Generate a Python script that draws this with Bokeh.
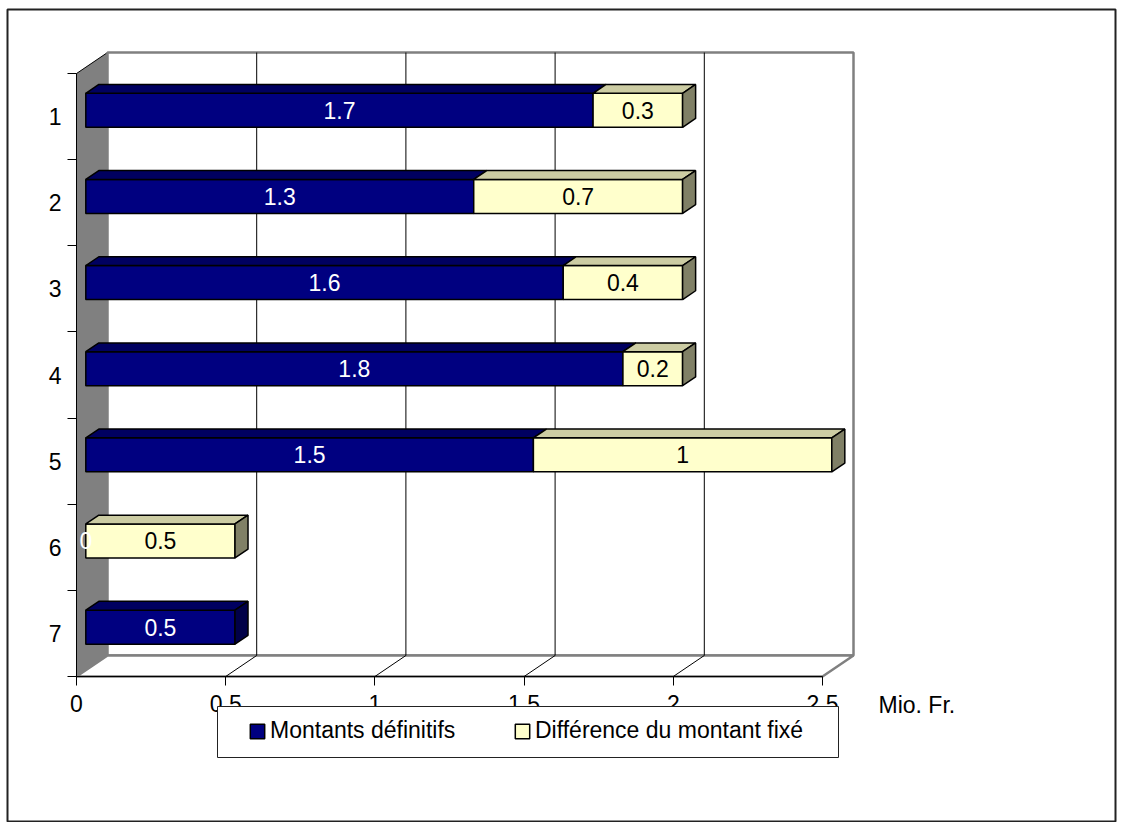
from bokeh.plotting import figure
from bokeh.models import (Range1d, LinearAxis, FixedTicker, ColumnDataSource,
                          Legend, LegendItem, Label, BoxAnnotation)
from bokeh.core.properties import value
from bokeh.embed import file_html
from bokeh.resources import INLINE

# ---------------- data ----------------
categories = ["1", "2", "3", "4", "5", "6", "7"]
montants_definitifs = [1.7, 1.3, 1.6, 1.8, 1.5, 0, 0.5]
difference_montant_fixe = [0.3, 0.7, 0.4, 0.2, 1.0, 0.5, None]
x_ticks = [0, 0.5, 1, 1.5, 2, 2.5]
x_tick_labels = ["0", "0.5", "1", "1.5", "2", "2.5"]
series_names = ["Montants définitifs", "Différence du montant fixé"]
unit_label = "Mio. Fr."

# ---------------- layout / style ----------------
W, H = 1123, 822
FR_L, FR_T, FR_R, FR_B = 7, 9, 1115, 822
X0_PX, Y0_PX = 76, 676
PX_PER_X = 298.4
PX_PER_CAT = 86.14
DEPTH_PX = (31, 21)
F0, F1 = 0.3, 0.72
BAR_PX = 34
FONT = "Liberation Sans"
FS = "23px"
LEG_BOX_PX = (217, 706, 838, 757)   # left, top, right, bottom
LEG_ITEM_PX = (248, 731)            # first glyph left, item centre y
LEG_ITEM_H = 26

NAVY = ("#000080", "#000060", "#000048")
BEIGE = ("#FFFFCC", "#CCCCA3", "#808066")

n = len(categories)
x_max = x_ticks[-1]
DX = DEPTH_PX[0] / PX_PER_X
DY = DEPTH_PX[1] / PX_PER_CAT
BAR_H = BAR_PX / PX_PER_CAT


def px_to_x(px):
    return (px - X0_PX) / PX_PER_X


def py_to_y(py):
    return (Y0_PX - py) / PX_PER_CAT


x_range = Range1d(px_to_x(FR_L), px_to_x(FR_R))
y_range = Range1d(py_to_y(FR_B), py_to_y(FR_T))

p = figure(width=W, height=H, x_range=x_range, y_range=y_range,
           x_axis_type=None, y_axis_type=None,
           output_backend="svg", toolbar_location=None,
           min_border_left=FR_L, min_border_top=FR_T,
           min_border_right=W - FR_R, min_border_bottom=H - FR_B,
           outline_line_color="#222222", outline_line_width=2,
           background_fill_color="white", border_fill_color="white")

# ---------------- 3D walls ----------------
p.patch([0, DX, DX, 0], [0, DY, n + DY, n], fill_color="#808080", line_color=None)
p.segment(x0=[0], y0=[n], x1=[DX], y1=[n + DY], line_color="black", line_width=1)
p.quad(left=[DX], right=[x_max + DX], bottom=[DY], top=[n + DY],
       fill_color="white", line_color="#808080", line_width=2.5)
p.patch([0, DX, x_max + DX, x_max], [0, DY, DY, 0],
        fill_color="white", line_color="#808080", line_width=2.5)
inner = x_ticks[1:-1]
p.segment(x0=[t + DX for t in inner], y0=[DY] * len(inner),
          x1=[t + DX for t in inner], y1=[n + DY] * len(inner),
          line_color="black", line_width=1)
p.segment(x0=inner, y0=[0] * len(inner),
          x1=[t + DX for t in inner], y1=[DY] * len(inner),
          line_color="black", line_width=1)

# ---------------- bars ----------------
ox, oy = F0 * DX, F0 * DY
bx, by = (F1 - F0) * DX, (F1 - F0) * DY

faces = {k: {"xs": [], "ys": []} for k in
         ["nf", "nt", "ns", "bf", "bt", "bs"]}
lab_x, lab_y, lab_t, lab_c = [], [], [], []

for i, cat in enumerate(categories):
    uc = n - i - 0.5 + oy
    yb, yt = uc - BAR_H / 2, uc + BAR_H / 2
    segs = []
    a = 0.0
    for key, v, col in (("n", montants_definitifs[i], "white"),
                        ("b", difference_montant_fixe[i], "black")):
        if v is None:
            continue
        b = a + v
        lab_x.append((a + b) / 2 + ox)
        lab_y.append(uc)
        lab_t.append(f"{v:g}")
        lab_c.append(col)
        if v > 0:
            faces[key + "f"]["xs"].append([a + ox, b + ox, b + ox, a + ox])
            faces[key + "f"]["ys"].append([yb, yb, yt, yt])
            faces[key + "t"]["xs"].append([a + ox, b + ox, b + ox + bx, a + ox + bx])
            faces[key + "t"]["ys"].append([yt, yt, yt + by, yt + by])
            segs.append((key, b))
        a = b
    if segs:
        key, b = segs[-1]
        faces[key + "s"]["xs"].append([b + ox, b + ox + bx, b + ox + bx, b + ox])
        faces[key + "s"]["ys"].append([yb, yb + by, yt + by, yt])

style = dict(line_color="black", line_width=1.5)
r = {}
for key, cols in (("n", NAVY), ("b", BEIGE)):
    r[key + "f"] = p.patches("xs", "ys", source=ColumnDataSource(faces[key + "f"]),
                             fill_color=cols[0], **style)
    r[key + "t"] = p.patches("xs", "ys", source=ColumnDataSource(faces[key + "t"]),
                             fill_color=cols[1], **style)
    r[key + "s"] = p.patches("xs", "ys", source=ColumnDataSource(faces[key + "s"]),
                             fill_color=cols[2], **style)

p.text(x="x", y="y", text="t", text_color="c",
       source=ColumnDataSource(dict(x=lab_x, y=lab_y, t=lab_t, c=lab_c)),
       text_align="center", text_baseline="middle",
       text_font=value(FONT), text_font_size=FS)

# ---------------- axes ----------------
xaxis = LinearAxis(fixed_location=0,
                   ticker=FixedTicker(ticks=x_ticks, minor_ticks=[]),
                   bounds=(0, x_max),
                   major_label_overrides={t: l for t, l in zip(x_ticks, x_tick_labels)},
                   axis_line_color="black", axis_line_width=1,
                   major_tick_out=9, major_tick_in=0,
                   major_tick_line_color="black",
                   minor_tick_line_color=None,
                   major_label_standoff=9,
                   major_label_text_font=FONT,
                   major_label_text_font_size=FS,
                   major_label_text_color="black")
p.add_layout(xaxis, "below")

centers = [n - i - 0.5 for i in range(n)]
yaxis = LinearAxis(fixed_location=0,
                   ticker=FixedTicker(ticks=centers, minor_ticks=list(range(n + 1))),
                   bounds=(0, n),
                   major_label_overrides={c: cat for c, cat in zip(centers, categories)},
                   axis_line_color="black", axis_line_width=1,
                   major_tick_line_color=None, major_tick_out=0, major_tick_in=0,
                   minor_tick_line_color="black", minor_tick_out=9, minor_tick_in=0,
                   major_label_standoff=6,
                   major_label_text_font=FONT,
                   major_label_text_font_size=FS,
                   major_label_text_color="black")
p.add_layout(yaxis, "left")

p.add_layout(Label(x=x_max, y=0, x_offset=56, y_offset=-28, text=unit_label,
                   text_baseline="middle", text_font=FONT, text_font_size=FS,
                   text_color="black"))

# ---------------- legend ----------------
p.add_layout(BoxAnnotation(left=px_to_x(LEG_BOX_PX[0]), right=px_to_x(LEG_BOX_PX[2]),
                           top=py_to_y(LEG_BOX_PX[1]), bottom=py_to_y(LEG_BOX_PX[3]),
                           fill_color="white", fill_alpha=1,
                           line_color="#222222", line_width=1, line_alpha=1))

legend = Legend(items=[LegendItem(label=series_names[0], renderers=[r["nf"]]),
                       LegendItem(label=series_names[1], renderers=[r["bf"]])],
                orientation="horizontal",
                location=(LEG_ITEM_PX[0] - FR_L,
                          FR_B - (LEG_ITEM_PX[1] + LEG_ITEM_H / 2)),
                padding=0, spacing=57, label_width=186, label_height=LEG_ITEM_H,
                glyph_width=18, glyph_height=18, label_standoff=4,
                border_line_color=None, background_fill_alpha=0,
                label_text_font=FONT, label_text_font_size=FS,
                label_text_color="black", margin=0)
p.add_layout(legend)

open("out.html", "w").write(file_html(p, INLINE))
